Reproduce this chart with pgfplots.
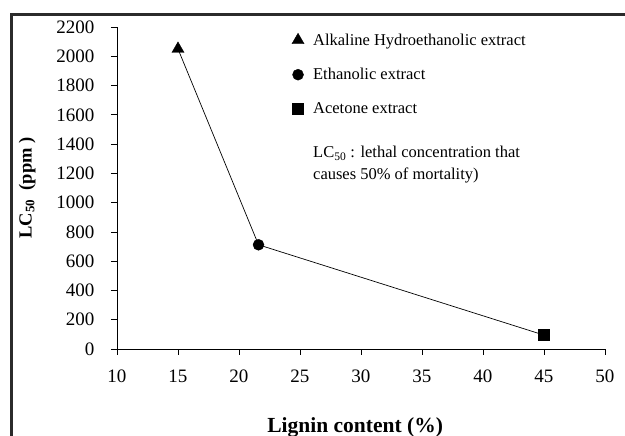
\documentclass[border=0pt]{standalone}
\usepackage{fontspec}
\setmainfont{Liberation Serif}
\usepackage{pgfplots}
\pgfplotsset{compat=1.18}
\definecolor{framegray}{HTML}{2B2B2B}
\begin{document}
\begin{tikzpicture}[x=1pt,y=1pt]
\useasboundingbox (0,0) rectangle (625,436);
\draw[line width=3pt, framegray] (11.5,-5) -- (11.5,421) -- (630,421);
\begin{axis}[
  at={(117pt,87pt)}, anchor=south west,
  scale only axis, width=488pt, height=322pt,
  xmin=10, xmax=50, ymin=0, ymax=2200,
  xtick={10,15,...,50}, ytick={0,200,...,2200},
  axis x line*=bottom, axis y line*=left,
  axis line style={-, line width=0.8pt, black},
  tick style={line width=0.8pt, black},
  tick align=outside, major tick length=6pt,
  /pgf/number format/assume math mode=true,
  /pgf/number format/1000 sep={},
  tick label style={font=\fontsize{19}{21}\selectfont},
  yticklabel shift=13pt,
  xticklabel style={yshift=-11pt},
  xlabel={Lignin content (\%)},
  xlabel style={font=\fontsize{21.5}{24}\selectfont\bfseries, at={(axis description cs:0.488,-0.242)}, anchor=center},
  ylabel={LC\textsubscript{50}\ \ (ppm\ )},
  ylabel style={font=\fontsize{18.5}{20}\selectfont\bfseries, at={(axis description cs:-0.184,0.5)}, anchor=center},
  legend style={draw=none, fill=none, at={(axis description cs:0.352,0.992)}, anchor=north west,
    font=\fontsize{16.5}{18}\selectfont, row sep=17.5pt, column sep=7pt},
  legend cell align=left,
  clip=false,
]
\addplot[black, line width=0.7pt, forget plot] coordinates {(15,2050) (21.6,712) (45,95)};
\addplot[only marks, mark=triangle*, mark size=7pt, black] coordinates {(15,2050)};
\addlegendentry{Alkaline Hydroethanolic extract}
\addplot[only marks, mark=*, mark size=5.5pt, black] coordinates {(21.6,712)};
\addlegendentry{Ethanolic extract}
\addplot[only marks, mark=square*, mark size=5.5pt, black] coordinates {(45,95)};
\addlegendentry{Acetone extract}
\node[anchor=north west, inner sep=0pt, align=left, font=\fontsize{16.5}{22}\selectfont]
  at (axis description cs:0.4016,0.630) {LC\textsubscript{50} : lethal concentration that\\causes 50\% of mortality)};
\end{axis}
\end{tikzpicture}
\end{document}
